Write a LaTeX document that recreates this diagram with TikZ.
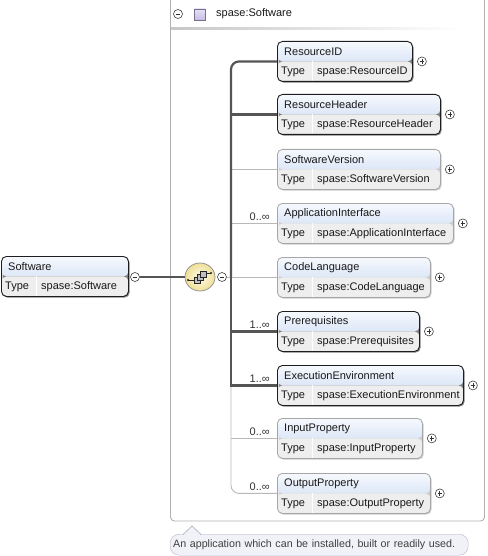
\documentclass[tikz,border=0pt]{standalone}
\usepackage{fontspec}
\setmainfont{Liberation Sans}
\usetikzlibrary{shapes.geometric}

\definecolor{hdtop}{HTML}{F6F9FE}
\definecolor{hdbot}{HTML}{C4D4F0}
\definecolor{typefill}{HTML}{EEEEEE}
\definecolor{reqline}{HTML}{1E1E1E}
\definecolor{optline}{HTML}{A6A6A6}
\definecolor{busdark}{HTML}{555555}
\definecolor{buslight}{HTML}{B8B8B8}
\definecolor{framecol}{HTML}{B0B0B0}
\definecolor{seqin}{HTML}{FFFDE8}
\definecolor{seqout}{HTML}{EEDF98}
\definecolor{tipfill}{HTML}{F1F1F8}
\definecolor{tipline}{HTML}{B8B8CA}
\definecolor{cmpfill}{HTML}{C8BCE8}

\tikzset{
  elbox/.style={anchor=north west, minimum height=40pt, inner sep=0pt, rounded corners=5pt,
    path picture={
      \shade[top color=hdtop, bottom color=hdbot] (path picture bounding box.north west) rectangle ([yshift=-20pt]path picture bounding box.north east);
      \fill[typefill] ([yshift=-20pt]path picture bounding box.north west) rectangle (path picture bounding box.south east);
      \draw[white, line width=1pt] ([xshift=35pt,yshift=-20pt]path picture bounding box.north west) -- ([xshift=35pt]path picture bounding box.south west);
    }},
  req box/.style={draw=reqline, line width=0.9pt},
  opt box/.style={draw=optline, line width=0.8pt},
  req shadow/.style={fill=black!50},
  opt shadow/.style={fill=black!20},
  eltext/.style={anchor=west, inner sep=0pt, font=\fontsize{11}{13}\selectfont, text=black!90},
  occ/.style={anchor=east, inner sep=0pt, font=\fontsize{11}{13}\selectfont, text=black!80},
  btn/.style={circle, draw=black!75, fill=white, minimum size=9pt, inner sep=0pt, line width=0.6pt},
  minusbtn/.style={btn, path picture={\draw[black!80, line width=0.7pt] ([xshift=-2.3pt]path picture bounding box.center) -- ([xshift=2.3pt]path picture bounding box.center);}},
  plusbtn/.style={btn, path picture={\draw[black!80, line width=0.7pt] ([xshift=-2.3pt]path picture bounding box.center) -- ([xshift=2.3pt]path picture bounding box.center) ([yshift=-2.3pt]path picture bounding box.center) -- ([yshift=2.3pt]path picture bounding box.center);}},
  busthick/.style={busdark, line width=2.2pt},
  busthin/.style={buslight, line width=0.9pt},
  tipbox/.style={draw=tipline, fill=tipfill, rounded corners=9pt, anchor=north west, minimum height=21pt, text width=292pt, inner xsep=3pt, inner ysep=0pt, font=\fontsize{10.7}{12}\selectfont, text=black!75},
}

% element box: name, x, top, width, title, type, req/opt
\newcommand{\xsdelem}[7]{%
  \fill[#7 shadow, rounded corners=5pt] (#2+1.6,#3+1.6) rectangle ++(#4,40);
  \node[elbox, #7 box, minimum width=#4] (#1) at (#2,#3) {};
  \node[eltext] (#1-t) at ([xshift=7pt,yshift=-10.5pt]#1.north west) {#5};
  \node[eltext] (#1-k) at ([xshift=4pt,yshift=-30.5pt]#1.north west) {Type};
  \node[eltext] (#1-v) at ([xshift=40pt,yshift=-30.5pt]#1.north west) {#6};
}

\begin{document}
\begin{tikzpicture}[x=1pt,y=-1pt]
\useasboundingbox (0,0) rectangle (487,556);

% complex type frame
\draw[framecol, line width=0.9pt, rounded corners=4pt] (170.5,0) -- (170.5,521) -- (484.5,521) -- (484.5,0);
\shade[left color=black!22, right color=white] (171,28) rectangle (462,30);
\node[minusbtn] (cmpm) at (178,14) {};
\node[draw=black!40!cmpfill, top color=cmpfill!45, bottom color=cmpfill, minimum size=11pt, inner sep=0pt] (cmp) at (199.5,14.5) {};
\node[eltext] (cmp-t) at (216,14) {spase:Software};

% the element itself
\xsdelem{sw}{1}{256}{127}{Software}{spase:Software}{req}
\node[minusbtn] (swm) at (135,277) {};
\node[ellipse, draw=black!45, line width=0.7pt, inner color=seqin, outer color=seqout, minimum width=30pt, minimum height=28pt] (seq) at (200,277) {};
\node[minusbtn] (seqm) at (222,277) {};
\draw[busdark, line width=1.8pt] (swm) -- (seq);

% sequence icon
\draw[black!85, line width=1pt] ([shift={(-12,3)}]seq.center) -- ([shift={(-5,3)}]seq.center);
\draw[black!85, line width=1pt] ([shift={(4,-4)}]seq.center) -- ([shift={(11,-4)}]seq.center);
\fill[black!85] ([shift={(-12,3)}]seq.center) circle (1.2pt);
\fill[black!85] ([shift={(11,-4)}]seq.center) circle (1.2pt);
\foreach \d in {0,3,6}
  \draw[black!85, fill=black!25, line width=0.7pt] ([shift={(-6+\d,0-\d)}]seq.center) rectangle ++(6,6);

% children
\xsdelem{rid}{277}{41}{135}{ResourceID}{spase:ResourceID}{req}
\xsdelem{rh}{277}{94}{163}{ResourceHeader}{spase:ResourceHeader}{req}
\xsdelem{sv}{277}{149}{163}{SoftwareVersion}{spase:SoftwareVersion}{opt}
\xsdelem{ai}{277}{203}{176}{ApplicationInterface}{spase:ApplicationInterface}{opt}
\xsdelem{cl}{277}{257}{153}{CodeLanguage}{spase:CodeLanguage}{opt}
\xsdelem{pr}{277}{311}{142}{Prerequisites}{spase:Prerequisites}{req}
\xsdelem{ee}{277}{365}{186}{ExecutionEnvironment}{spase:ExecutionEnvironment}{req}
\xsdelem{ip}{277}{418}{145}{InputProperty}{spase:InputProperty}{opt}
\xsdelem{op}{277}{473}{153}{OutputProperty}{spase:OutputProperty}{opt}

\foreach \n in {rid,rh,sv,ai,cl,pr,ee,ip,op}
  \node[plusbtn] (\n-p) at ([xshift=9pt]\n.east) {};

% occurrences
\node[occ] (ai-o) at ([xshift=-7pt,yshift=7pt]ai.west) {0..∞};
\node[occ] (pr-o) at ([xshift=-7pt,yshift=7pt]pr.west) {1..∞};
\node[occ] (ee-o) at ([xshift=-7pt,yshift=7pt]ee.west) {1..∞};
\node[occ] (ip-o) at ([xshift=-7pt,yshift=7pt]ip.west) {0..∞};
\node[occ] (op-o) at ([xshift=-7pt,yshift=7pt]op.west) {0..∞};

% bus
\coordinate (bus) at (231,277);
\draw[busthin] (seqm) -- (bus);
\draw[busthin, rounded corners=8pt] (bus) |- (op.west);
\foreach \n in {sv,ai,cl,ip}
  \draw[busthin] (\n.west -| bus) -- (\n.west);
\draw[busthick, rounded corners=8pt] (rid.west) -| (bus);
\draw[busthick] (bus) |- (ee.west);
\draw[busthick] (rh.west -| bus) -- (rh.west);
\draw[busthick] (pr.west -| bus) -- (pr.west);

% annotation
\node[tipbox] (tip) at (170,534) {An application which can be installed, built or readily used.};
\fill[tipfill] (183.5,534.8) -- (192,526.6) -- (200.5,534.8) -- cycle;
\draw[tipline, line width=0.8pt] (183,534.5) -- (192,526) -- (201,534.5);
\end{tikzpicture}
\end{document}
